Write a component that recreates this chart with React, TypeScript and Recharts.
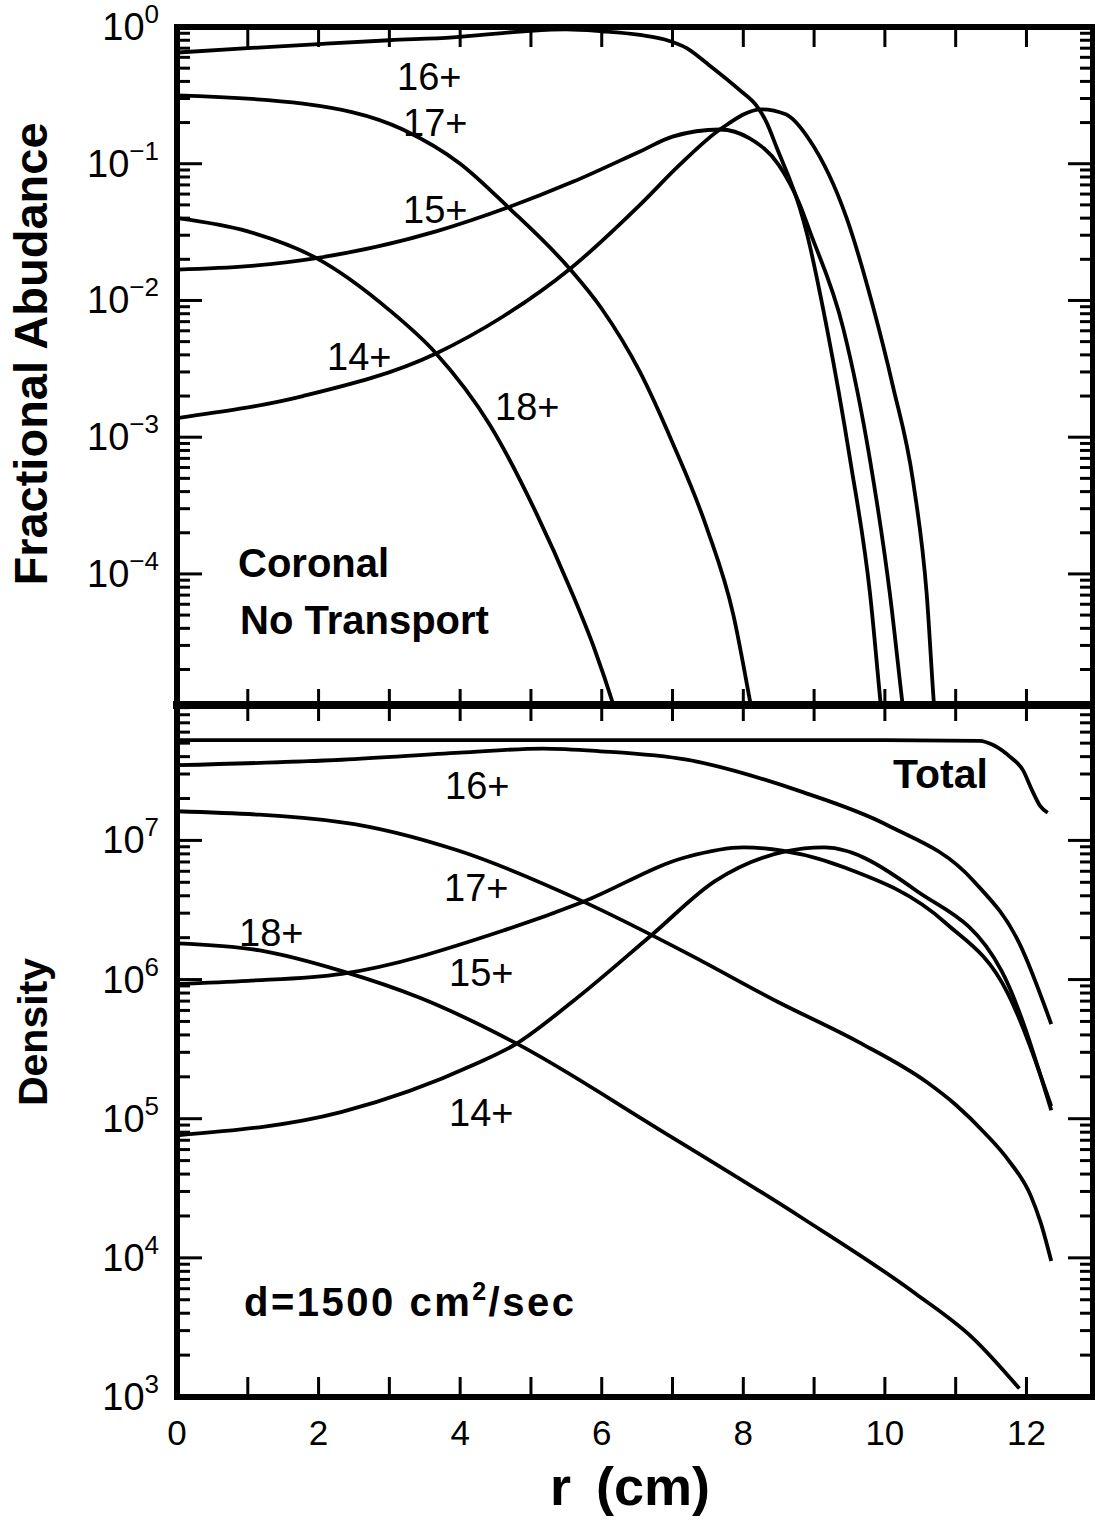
import React from "react";
import { LineChart, Line, XAxis, YAxis } from "recharts";

// ---------- layout ----------
const W = 1095;
const H = 1527;
const PLOT_LEFT = 177;
const PLOT_RIGHT = 1093;
const TOP_Y0 = 27;
const MID_Y = 705;
const BOT_Y1 = 1397;
const FONT = '"Liberation Sans", Arial, Helvetica, sans-serif';

// ---------- axes ----------
const rDomain: [number, number] = [0, 12.94];
const rTicks = [0, 1, 2, 3, 4, 5, 6, 7, 8, 9, 10, 11, 12];
const rTickLabels = [0, 2, 4, 6, 8, 10, 12];

const abundanceDomain: [number, number] = [1.1e-5, 1];
const abundanceDecades = [-5, -4, -3, -2, -1, 0];
const abundanceLabelled = [-4, -3, -2, -1, 0];

const densityDomain: [number, number] = [1e3, 9.4e7];
const densityDecades = [3, 4, 5, 6, 7];
const densityLabelled = [3, 4, 5, 6, 7];

const minorMultipliers = [2, 3, 4, 5, 6, 7, 8, 9];

// ---------- top panel: fractional abundance (coronal, no transport) ----------
const rTop14 = [0, 1.78, 3.66, 4.6, 5.55, 6.54, 7.1, 7.67, 8.26, 8.6, 8.94, 9.46, 9.83, 10.11, 10.4, 10.59, 10.7, 10.76];
const vTop14 = [0.00138, 0.002, 0.0041, 0.0076, 0.017, 0.05, 0.098, 0.178, 0.25, 0.23, 0.148, 0.04, 0.0091, 0.0024, 0.00047, 0.000072, 0.00001, 0.0000045];

const rTop15 = [0, 1.0, 1.97, 3.66, 4.68, 5.6, 6.54, 7.0, 7.67, 8.09, 8.5, 8.8, 8.94, 9.41, 9.79, 10.07, 10.26, 10.32];
const vTop15 = [0.0168, 0.0178, 0.0204, 0.032, 0.048, 0.074, 0.123, 0.158, 0.178, 0.153, 0.098, 0.05, 0.032, 0.0063, 0.00068, 0.000072, 0.00001, 0.0000055];

const rTop16 = [0, 1, 2, 3, 3.9, 4.9, 5.5, 6.0, 6.54, 6.89, 7.2, 7.49, 7.95, 8.2, 8.33, 8.47, 8.8, 8.89, 9.18, 9.51, 9.79, 9.95, 10.02];
const vTop16 = [0.65, 0.7, 0.75, 0.8, 0.84, 0.93, 0.96, 0.93, 0.875, 0.81, 0.7, 0.54, 0.345, 0.26, 0.2, 0.132, 0.047, 0.032, 0.0063, 0.00068, 0.000072, 0.00001, 0.0000045];

const rTop17 = [0, 1.78, 3.19, 4.0, 4.68, 5.55, 6.0, 6.54, 7.0, 7.48, 7.86, 8.12, 8.2];
const vTop17 = [0.316, 0.275, 0.178, 0.1, 0.048, 0.017, 0.0087, 0.003, 0.00091, 0.00022, 0.00005, 0.00001, 0.000006];

const rTop18 = [0, 1.0, 1.97, 3.0, 3.66, 4.42, 5.08, 5.55, 5.9, 6.19, 6.28];
const vTop18 = [0.04, 0.032, 0.0204, 0.0085, 0.0041, 0.00123, 0.000275, 0.000079, 0.000028, 0.00001, 0.000007];

// ---------- bottom panel: density (d = 1500 cm^2/sec) ----------
const rTotal = [0, 2, 4, 6, 8, 10, 11.34, 11.53, 11.77, 11.95, 12.08, 12.19, 12.3];
const vTotal = [5.25e7, 5.25e7, 5.25e7, 5.25e7, 5.25e7, 5.25e7, 5.2e7, 4.85e7, 3.98e7, 3.2e7, 2.29e7, 1.78e7, 1.58e7];

const rBot16 = [0, 2.33, 4, 5.17, 5.98, 7.2, 8.82, 10.03, 11.25, 11.9, 12.35];
const vBot16 = [3.47e7, 3.8e7, 4.27e7, 4.57e7, 4.37e7, 3.8e7, 2.24e7, 1.29e7, 5.13e6, 1.82e6, 4.79e5];

const rBot17 = [0, 2.33, 3.96, 5.74, 7.2, 8.49, 9.63, 10.6, 11.0, 11.41, 11.75, 12.06, 12.2, 12.35];
const vBot17 = [1.62e7, 1.35e7, 8.5e6, 3.63e6, 1.55e6, 6.9e5, 3.55e5, 1.82e5, 1.26e5, 7.9e4, 5.0e4, 2.8e4, 1.8e4, 9.5e3];

const rBot18 = [0, 1.17, 2.33, 3.43, 4.76, 6.79, 8.82, 10.44, 11.25, 11.9];
const vBot18 = [1.82e6, 1.62e6, 1.15e6, 7.4e5, 3.55e5, 8.5e4, 1.95e4, 5.5e3, 2.63e3, 1.15e3];

const rBot15 = [0, 1, 2.33, 4.6, 5.74, 7.2, 8.0, 9.46, 10.85, 11.74, 12.35];
const vBot15 = [9.3e5, 9.8e5, 1.1e6, 2.24e6, 3.63e6, 7.6e6, 8.9e6, 6.3e6, 2.57e6, 7.9e5, 1.23e5];

const rBot14 = [0, 2.33, 4.2, 4.77, 5.58, 6.71, 7.6, 8.58, 9.14, 10.44, 11.65, 12.35];
const vBot14 = [7.6e4, 1.12e5, 2.45e5, 3.4e5, 6.9e5, 2.1e6, 5.1e6, 8.3e6, 8.9e6, 4.37e6, 1.15e6, 1.15e5];

// ---------- helpers ----------
const mk = (r: number[], v: number[]) => r.map((x, i) => ({ r: x, v: v[i] }));

const buildLogTicks = (decades: number[], dom: [number, number]) => {
  const out: number[] = [];
  decades.forEach((e) => {
    const base = Math.pow(10, e);
    out.push(base);
    minorMultipliers.forEach((m) => out.push(m * base));
  });
  return out.filter((t) => t >= dom[0] * 0.999 && t <= dom[1] * 1.001);
};

const topTicks = buildLogTicks(abundanceDecades, abundanceDomain);
const botTicks = buildLogTicks(densityDecades, densityDomain);

const TICK_W = 3;

function YTick(props: any) {
  const { x, y, payload, side, labelled } = props;
  const v = payload.value as number;
  const lg = Math.log10(v);
  const e = Math.round(lg);
  const major = Math.abs(lg - e) < 1e-6;
  const len = major ? 25 : 13;
  const dir = side === "left" ? 1 : -1;
  return (
    <g>
      <line x1={x} x2={x + dir * len} y1={y} y2={y} stroke="#000" strokeWidth={TICK_W} />
      {side === "left" && major && labelled.includes(e) && (
        <text x={x - 18} y={y + 13} textAnchor="end" fontFamily={FONT} fontSize={38} fill="#000">
          10
          <tspan dy={-17} fontSize={26}>
            {e < 0 ? `\u2212${-e}` : `${e}`}
          </tspan>
        </text>
      )}
    </g>
  );
}

function XTick(props: any) {
  const { x, y, payload, side, len, showLabels } = props;
  const dir = side === "bottom" ? -1 : 1;
  return (
    <g>
      <line x1={x} x2={x} y1={y} y2={y + dir * len} stroke="#000" strokeWidth={TICK_W} />
      {showLabels && rTickLabels.includes(payload.value) && (
        <text x={x} y={y + 48} textAnchor="middle" fontFamily={FONT} fontSize={35} fill="#000">
          {payload.value}
        </text>
      )}
    </g>
  );
}

const axisLineStyle = (w: number) => ({ stroke: "#000", strokeWidth: w, strokeLinecap: "square" as const });

const lineProps = {
  type: "monotone" as const,
  dataKey: "v",
  stroke: "#000",
  strokeWidth: 3.8,
  dot: false,
  activeDot: false,
  isAnimationActive: false,
  xAxisId: "b",
  yAxisId: "l",
};

function Panel(props: {
  top: number;
  bottom: number;
  domain: [number, number];
  ticks: number[];
  labelled: number[];
  topW: number;
  botW: number;
  topLen: number;
  botLen: number;
  showXLabels: boolean;
  series: { r: number; v: number }[][];
}) {
  const { top, bottom, domain, ticks, labelled, topW, botW, topLen, botLen, showXLabels, series } = props;
  return (
    <div style={{ position: "absolute", left: 0, top: 0 }}>
      <LineChart
        width={W}
        height={H}
        margin={{ top: top - 1, right: W - PLOT_RIGHT - 1, bottom: H - bottom - 1, left: PLOT_LEFT - 1 }}
      >
        <XAxis
          xAxisId="b"
          dataKey="r"
          type="number"
          domain={rDomain}
          ticks={rTicks}
          interval={0}
          allowDataOverflow
          height={1}
          tickSize={0}
          tickMargin={0}
          axisLine={axisLineStyle(botW)}
          tickLine={false}
          tick={(p: any) => <XTick {...p} side="bottom" len={botLen} showLabels={showXLabels} />}
        />
        <XAxis
          xAxisId="t"
          orientation="top"
          dataKey="r"
          type="number"
          domain={rDomain}
          ticks={rTicks}
          interval={0}
          allowDataOverflow
          height={1}
          tickSize={0}
          tickMargin={0}
          axisLine={axisLineStyle(topW)}
          tickLine={false}
          tick={(p: any) => <XTick {...p} side="top" len={topLen} showLabels={false} />}
        />
        <YAxis
          yAxisId="l"
          type="number"
          scale="log"
          domain={domain}
          ticks={ticks}
          interval={0}
          allowDataOverflow
          width={1}
          tickSize={0}
          tickMargin={0}
          axisLine={axisLineStyle(6)}
          tickLine={false}
          tick={(p: any) => <YTick {...p} side="left" labelled={labelled} />}
        />
        <YAxis
          yAxisId="r"
          orientation="right"
          type="number"
          scale="log"
          domain={domain}
          ticks={ticks}
          interval={0}
          allowDataOverflow
          width={1}
          tickSize={0}
          tickMargin={0}
          axisLine={axisLineStyle(6)}
          tickLine={false}
          tick={(p: any) => <YTick {...p} side="right" labelled={labelled} />}
        />
        {series.map((d, i) => (
          <Line key={i} {...lineProps} data={d} />
        ))}
      </LineChart>
    </div>
  );
}

const labelStyle = { fontFamily: FONT, fill: "#000" };

export default function App() {
  const topSeries = [mk(rTop14, vTop14), mk(rTop15, vTop15), mk(rTop16, vTop16), mk(rTop17, vTop17), mk(rTop18, vTop18)];
  const botSeries = [
    mk(rTotal, vTotal),
    mk(rBot16, vBot16),
    mk(rBot17, vBot17),
    mk(rBot18, vBot18),
    mk(rBot15, vBot15),
    mk(rBot14, vBot14),
  ];
  return (
    <div style={{ position: "absolute", left: 0, top: 0, width: W, height: H, background: "#fff" }}>
      <Panel
        top={TOP_Y0}
        bottom={MID_Y}
        domain={abundanceDomain}
        ticks={topTicks}
        labelled={abundanceLabelled}
        topW={6}
        botW={8}
        topLen={20}
        botLen={16}
        showXLabels={false}
        series={topSeries}
      />
      <Panel
        top={MID_Y}
        bottom={BOT_Y1}
        domain={densityDomain}
        ticks={botTicks}
        labelled={densityLabelled}
        topW={8}
        botW={6}
        topLen={16}
        botLen={20}
        showXLabels={true}
        series={botSeries}
      />
      <svg width={W} height={H} style={{ position: "absolute", left: 0, top: 0, pointerEvents: "none" }}>
        {/* axis titles */}
        <text transform="translate(47, 354) rotate(-90)" textAnchor="middle" fontWeight="bold" fontSize={47} {...labelStyle}>
          Fractional Abudance
        </text>
        <text transform="translate(47, 1032) rotate(-90)" textAnchor="middle" fontWeight="bold" fontSize={41} {...labelStyle}>
          Density
        </text>
        <text x={630} y={1505} textAnchor="middle" fontWeight="bold" fontSize={54} wordSpacing={10} {...labelStyle}>
          r (cm)
        </text>

        {/* top panel annotations */}
        <text x={397} y={90} fontSize={38} {...labelStyle}>16+</text>
        <text x={403} y={136} fontSize={38} {...labelStyle}>17+</text>
        <text x={403} y={223} fontSize={38} {...labelStyle}>15+</text>
        <text x={327} y={370} fontSize={38} {...labelStyle}>14+</text>
        <text x={495} y={420} fontSize={38} {...labelStyle}>18+</text>
        <text x={238} y={577} fontSize={40} fontWeight="bold" {...labelStyle}>Coronal</text>
        <text x={240} y={634} fontSize={40} fontWeight="bold" {...labelStyle}>No Transport</text>

        {/* bottom panel annotations */}
        <text x={445} y={799} fontSize={38} {...labelStyle}>16+</text>
        <text x={893} y={788} fontSize={41} fontWeight="bold" {...labelStyle}>Total</text>
        <text x={444} y={901} fontSize={38} {...labelStyle}>17+</text>
        <text x={239} y={946} fontSize={38} {...labelStyle}>18+</text>
        <text x={449} y={986} fontSize={38} {...labelStyle}>15+</text>
        <text x={449} y={1126} fontSize={38} {...labelStyle}>14+</text>
        <text x={244} y={1316} fontSize={40} fontWeight="bold" letterSpacing={2.5} {...labelStyle}>
          d=1500 cm<tspan dy={-16} fontSize={25}>2</tspan>
          <tspan dy={16}>/sec</tspan>
        </text>
      </svg>
    </div>
  );
}
